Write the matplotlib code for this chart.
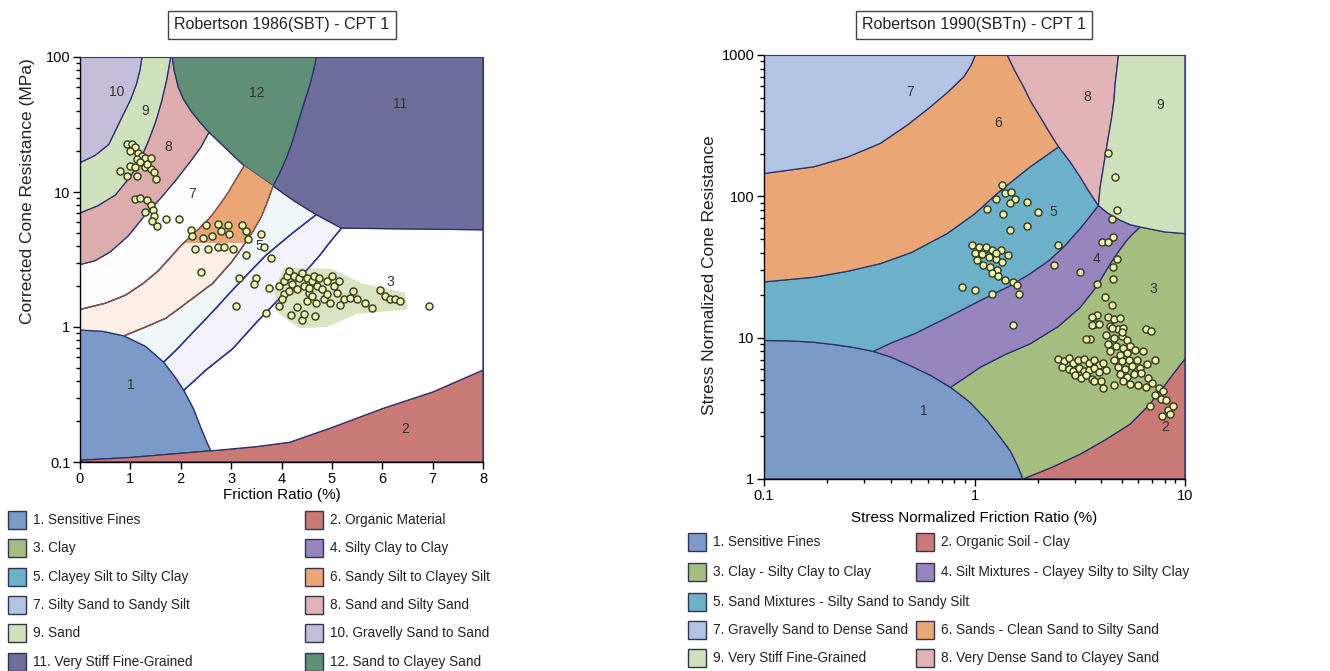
import matplotlib
matplotlib.use("Agg")
import matplotlib.pyplot as plt
from matplotlib.patches import Polygon, Rectangle
from matplotlib.ticker import NullFormatter

W, H = 1330, 671
plt.rcParams.update({
    "font.family": ["Liberation Sans", "DejaVu Sans"],
    "font.size": 10,
    "axes.linewidth": 1.0,
})

EDGE = "#27306a"

# ---------------- Robertson 1986 (SBT) : zone boundaries (Rf %, qt MPa) ----------------
L_ARC1 = [(0, 0.95), (0.45, 0.93), (0.87, 0.86), (1.3, 0.72), (1.66, 0.55), (1.9, 0.42),
          (2.06, 0.34), (2.25, 0.25), (2.4, 0.18), (2.52, 0.14), (2.6, 0.121)]
L_B32 = [(0, 0.103), (1.0, 0.108), (2.0, 0.116), (2.6, 0.121), (3.5, 0.13), (4.16, 0.14),
         (5.0, 0.18), (6.02, 0.25), (7.0, 0.33), (8, 0.48)]
L_B43 = [(2.06, 0.34), (2.3, 0.41), (2.5, 0.48), (2.75, 0.57), (3.03, 0.69), (3.25, 0.85),
         (3.5, 1.08), (3.75, 1.35), (4.03, 1.73), (4.2, 2.02), (4.4, 2.4), (4.6, 2.9),
         (4.76, 3.4), (4.95, 4.2), (5.19, 5.4)]
L_B54 = [(1.66, 0.55), (1.95, 0.7), (2.2, 0.88), (2.45, 1.1), (2.7, 1.38), (2.95, 1.75),
         (3.2, 2.2), (3.45, 2.75), (3.69, 3.4), (3.95, 4.1), (4.2, 4.9), (4.45, 5.8), (4.69, 6.8)]
L_B65 = [(0.87, 0.86), (1.3, 1.0), (1.7, 1.16), (2.0, 1.4), (2.3, 1.7), (2.63, 2.1), (2.85, 2.6),
         (3.0, 3.0), (3.2, 3.8), (3.43, 5.1), (3.6, 6.6), (3.72, 8.5), (3.83, 11.1)]
L_B76 = [(0, 1.35), (0.5, 1.5), (0.9, 1.72), (1.25, 2.1), (1.55, 2.6), (1.8, 3.3), (2.0, 4.0),
         (2.2, 4.7), (2.35, 5.3), (2.5, 6.0), (2.63, 6.8), (2.8, 8.3), (2.95, 10.0), (3.1, 12.5),
         (3.26, 15.6)]
L_B87 = [(0, 2.9), (0.3, 3.1), (0.6, 3.6), (0.95, 4.7), (1.3, 6.8), (1.6, 9.0), (1.9, 12.2),
         (2.2, 17), (2.4, 21.5), (2.56, 27.7)]
L_B98 = [(0, 7.0), (0.35, 7.9), (0.7, 9.5), (1.0, 13), (1.2, 17.5), (1.36, 24), (1.5, 33),
         (1.62, 47), (1.72, 68), (1.8, 100)]
L_B109 = [(0, 16.5), (0.3, 18.7), (0.57, 22.5), (0.83, 35.7), (1.0, 48), (1.12, 63),
          (1.19, 80), (1.23, 100)]
L_B12L = [(1.83, 100), (1.87, 80), (1.95, 60), (2.05, 49), (2.2, 40), (2.38, 33), (2.56, 27.7)]
L_B12R = [(3.83, 11.1), (3.95, 13.5), (4.1, 18), (4.22, 24), (4.35, 35), (4.45, 46),
          (4.55, 60), (4.63, 78), (4.69, 100)]
L_B11 = [(3.83, 11.1), (4.25, 8.6), (4.69, 6.8), (5.19, 5.4), (8, 5.25)]
L_GREEN = [(3.85, 1.9), (4.05, 2.75), (5.0, 2.7), (5.6, 2.1), (6.45, 1.8), (6.5, 1.35),
           (5.5, 1.25), (4.9, 1.0), (4.35, 0.98), (3.95, 1.25)]

L_COLORS = {1: "#7b9ac7", 2: "#c97a77", 3: "#ffffff", 4: "#f3f1f9", 5: "#eff7f9",
            6: "#fcefe8", 7: "#fdfdff", 8: "#ddadae", 9: "#cee0bc", 10: "#c4bdd9",
            11: "#6f6d9b", 12: "#5f8f77"}
L_ORANGE = "#eba676"

L_ZONE_ID = ["10", "9", "12", "11", "8", "7", "5", "3", "1", "2"]
L_ZONE_X = [0.73, 1.3, 3.5, 6.35, 1.76, 2.23, 3.56, 6.16, 1.0, 6.46]
L_ZONE_Y = [55, 40, 54, 45, 21.5, 9.6, 4.0, 2.17, 0.37, 0.176]

# CPT 1 data (Rf %, qt MPa)
L_RF = [0.93, 1.03, 1.10, 1.0, 1.16, 1.23, 1.13, 1.30, 1.40, 1.20, 1.0, 1.10, 1.30, 1.40, 0.80,
        0.93, 1.13, 1.46, 1.50, 1.33,
        1.10, 1.20, 1.33, 1.40, 1.30, 1.44, 1.46, 1.43, 1.53, 1.71, 1.96,
        2.20, 2.51, 2.73, 2.93, 3.21, 3.29, 2.23, 2.44, 2.63, 2.80, 2.96, 3.33, 2.28, 2.55, 2.73,
        2.86, 3.03, 2.40,
        3.59, 3.66, 3.79, 3.29, 3.16, 3.49, 3.46, 3.10,
        3.95, 4.05, 4.1, 4.15, 4.2, 4.25, 4.3, 4.35, 4.4, 4.45, 4.5, 4.55, 4.6, 4.65, 4.7, 4.75,
        4.8, 4.9, 5.0, 5.05, 5.1, 5.15, 5.25, 5.36, 5.42, 5.5, 5.66, 5.79, 5.96, 6.05, 6.15, 6.25,
        6.36, 6.92, 3.96, 4.19, 4.3, 4.4, 4.45, 4.5, 4.6, 4.66, 4.69, 4.85, 4.96, 5.16, 3.75, 4.05,
        4.15, 4.55, 4.9, 3.69, 4.0]
L_QT = [22.7, 22.7, 21.4, 20.2, 19.6, 18.5, 17.5, 18.0, 18.0, 16.6, 15.6, 15.2, 15.2, 14.8, 14.4,
        13.2, 13.2, 14.0, 12.4, 16.1,
        8.8, 9.1, 8.7, 8.0, 7.1, 7.3, 6.6, 6.1, 5.6, 6.3, 6.3,
        5.2, 5.7, 5.75, 5.7, 5.7, 5.1, 4.7, 4.6, 4.7, 5.1, 4.85, 4.5, 3.8, 3.8, 3.9,
        3.9, 3.8, 2.56,
        4.9, 3.9, 3.25, 3.44, 2.3, 2.3, 2.1, 1.42,
        2.0, 2.2, 2.4, 2.6, 2.1, 2.4, 1.9, 2.3, 2.5, 2.0, 2.3, 1.8, 2.2, 2.4, 2.0, 2.3,
        1.9, 2.2, 2.4, 2.0, 1.8, 2.2, 1.6, 1.64, 1.85, 1.6, 1.5, 1.39, 1.89, 1.7, 1.6, 1.6,
        1.55, 1.42, 1.42, 1.23, 1.4, 1.13, 1.25, 1.55, 1.7, 1.21, 1.5, 1.6, 1.5, 1.45, 1.95, 1.75,
        1.85, 1.95, 1.75, 1.27, 1.6]

L_LEGEND = ["1. Sensitive Fines", "2. Organic Material", "3. Clay", "4. Silty Clay to Clay",
            "5. Clayey Silt to Silty Clay", "6. Sandy Silt to Clayey Silt",
            "7. Silty Sand to Sandy Silt", "8. Sand and Silty Sand", "9. Sand",
            "10. Gravelly Sand to Sand", "11. Very Stiff Fine-Grained", "12. Sand to Clayey Sand"]
L_LEG_COLORS = ["#7b9ac7", "#c97a77", "#a5be7f", "#9686bd", "#6db0c9", "#eba676",
                "#b3c3e3", "#e2b3b6", "#cfe0bd", "#c4bdd9", "#6f6d9b", "#5f8f77"]

# ---------------- Robertson 1990 (SBTn) : zone boundaries (Fr %, Qt) ----------------
R_ARC1 = [(0.1, 9.55), (0.13, 9.5), (0.17, 9.3), (0.22, 8.9), (0.27, 8.5), (0.33, 8.0),
          (0.4, 7.3), (0.5, 6.3), (0.62, 5.4), (0.77, 4.45), (0.95, 3.5), (1.15, 2.59),
          (1.3, 2.05), (1.48, 1.58), (1.6, 1.25), (1.7, 1.0)]
R_B32 = [(1.7, 1.0), (2.3, 1.2), (3.18, 1.5), (4.2, 1.9), (5.49, 2.45), (6.7, 3.3),
         (7.88, 4.46), (9.0, 5.8), (10, 7.08)]
R_B43 = [(0.77, 4.45), (1.07, 6.2), (1.4, 7.6), (1.84, 9.06), (2.5, 12.0), (3.18, 16.4),
         (3.8, 23), (4.41, 33.3), (4.85, 41), (5.29, 48.9), (5.7, 55), (6.12, 60.7)]
R_B39 = [(6.12, 60.7), (8.0, 56), (10, 54.5)]
R_B45 = [(0.33, 8.0), (0.41, 9.3), (0.514, 10.6), (0.75, 14), (1.07, 18.4), (1.45, 23),
         (1.84, 28.4), (2.25, 35), (2.65, 43.8), (3.2, 60), (3.88, 86)]
R_B49 = [(3.88, 86), (4.3, 76), (4.92, 67.8), (5.5, 63), (6.12, 60.7)]
R_B56 = [(0.1, 24.8), (0.173, 26.8), (0.25, 29.5), (0.357, 33.4), (0.5, 40), (0.741, 54.5),
         (1.0, 75), (1.28, 104.7), (1.55, 132), (1.84, 162), (2.2, 195), (2.51, 224)]
R_B58 = [(2.51, 224), (2.85, 175), (3.18, 137), (3.5, 108), (3.88, 86)]
R_B67 = [(0.1, 145), (0.173, 162), (0.25, 190), (0.357, 237), (0.48, 320), (0.618, 430),
         (0.75, 550), (0.889, 701), (0.96, 840), (1.01, 1000)]
R_B68 = [(2.51, 224), (2.25, 290), (2.05, 366), (1.85, 470), (1.71, 597), (1.55, 780),
         (1.43, 1000)]
R_B89 = [(3.88, 86), (3.95, 115), (4.10, 162), (4.3, 250), (4.49, 366), (4.6, 480),
         (4.66, 631), (4.75, 800), (4.83, 1000)]

R_COLORS = {1: "#7b9ac7", 2: "#c97a77", 3: "#a5be7f", 4: "#9686bd", 5: "#6db0c9",
            6: "#eba676", 7: "#b3c3e3", 8: "#e2b3b6", 9: "#cfe0bd"}

R_ZONE_ID = ["7", "6", "8", "9", "5", "4", "3", "1", "2"]
R_ZONE_X = [0.497, 1.30, 3.42, 7.6, 2.36, 3.81, 7.03, 0.574, 8.04]
R_ZONE_Y = [550, 328, 507, 443, 77.5, 36.2, 22.2, 3.05, 2.32]

R_FR = [1.35, 1.40, 1.49, 1.55, 1.26, 1.15, 1.37, 1.48, 1.78, 2.01, 1.78, 1.48, 2.49, 2.38, 3.18,
        1.53,
        0.97, 1.05, 1.12, 1.21, 1.33, 1.45, 1.0, 1.09, 1.17, 1.26, 1.35, 1.03, 1.10, 1.19, 1.28,
        1.21, 1.30, 1.40, 1.52, 1.59, 1.62, 0.87, 1.01, 1.21, 1.14, 1.27,
        4.33, 4.66, 4.74, 4.49, 4.57, 4.03, 4.33, 4.74, 4.57, 4.57, 3.81, 4.18, 4.49, 3.81, 3.73,
        3.54,
        2.5, 2.65, 2.8, 2.95, 3.1, 3.3, 3.5, 3.7, 3.9, 4.1, 2.6, 2.8, 2.95, 3.15, 3.3, 3.5, 3.7,
        3.9, 4.2, 3.0, 3.2, 3.4, 3.6, 4.0, 4.6,
        4.3, 4.6, 4.9, 4.4, 4.8, 5.1, 4.2, 4.6, 5.0, 5.3, 4.3, 4.7, 5.1, 5.5, 4.4, 4.9, 5.3, 5.8,
        6.3, 4.6, 5.0, 5.4, 5.9, 4.8, 5.2, 5.6, 6.1, 6.6, 7.2, 4.9, 5.3, 5.7, 6.2, 6.7, 5.1, 5.5,
        6.0, 6.5, 7.0, 7.5, 7.9, 7.2, 7.7, 8.1, 6.8, 8.3, 8.8, 7.8, 8.5, 3.6, 3.6, 3.4, 6.5, 6.9,
        4.1, 3.7, 5.0, 4.5, 3.9]
R_QT = [120, 106, 107, 96, 96, 82, 75.5, 89, 91, 77, 62, 57.5, 45.5, 32.8, 29,
        12.2,
        45, 43.8, 42.7, 42, 41.5, 38.3, 39.7, 38.9, 37.3, 36.3, 34.3, 35.6, 32.5, 31.6, 30.3,
        28.7, 27.2, 25.4, 24.8, 23.5, 20.5, 22.8, 21.6, 20.5, 44, 40,
        201, 137, 79.6, 69.5, 51.5, 47.5, 47.5, 36.2, 31.6, 26.1, 24.1, 19.4, 16.9, 14.4, 12.5,
        9.8,
        7.1, 6.8, 7.2, 6.6, 6.9, 7.1, 6.6, 6.9, 6.4, 6.6, 6.2, 6.0, 5.8, 6.1, 5.8, 5.9, 6.1,
        5.7, 5.9, 5.4, 5.2, 5.4, 5.1, 4.9, 4.6,
        14, 13.5, 13.8, 12, 11.5, 11.8, 10.5, 10, 10.2, 9.6, 9.0, 8.8, 8.5, 8.8, 8.0, 7.6, 7.8, 8.2,
        8.0, 7.0, 6.8, 6.9, 7.0, 6.2, 6.0, 6.3, 6.1, 6.5, 7.0, 5.5, 5.3, 5.5, 5.6, 5.2, 4.9, 4.7,
        4.6, 4.5, 4.8, 4.4, 4.2, 3.9, 3.7, 3.6, 3.3, 3.1, 3.3, 2.8, 2.9, 14, 12.3, 9.8, 11.5, 11.2,
        4.4, 4.9, 10.9, 11.8, 12.5]

R_LEGEND = ["1. Sensitive Fines", "2. Organic Soil - Clay", "3. Clay - Silty Clay to Clay",
            "4. Silt Mixtures - Clayey Silty to Silty Clay",
            "5. Sand Mixtures - Silty Sand to Sandy Silt", None,
            "7. Gravelly Sand to Dense Sand", "6. Sands - Clean Sand to Silty Sand",
            "9. Very Stiff Fine-Grained", "8. Very Dense Sand to Clayey Sand"]
R_LEG_COLORS = ["#7b9ac7", "#c97a77", "#a5be7f", "#9686bd", "#6db0c9", None,
                "#b3c3e3", "#eba676", "#cfe0bd", "#e2b3b6"]


def rev(p):
    return list(p)[::-1]


def seg(p, a, b):
    # sub-boundary from point a to point b (inclusive)
    i, j = p.index(a), p.index(b)
    return list(p[i:j + 1])


def add_zone(ax, pts, color, z=1):
    poly = Polygon(pts, closed=True, facecolor=color, edgecolor=EDGE, lw=0.9, zorder=z)
    ax.add_patch(poly)
    return poly


def style_axes(ax):
    for s in ("top", "right"):
        ax.spines[s].set_color("#3a3a6a")
        ax.spines[s].set_linewidth(0.8)
    ax.tick_params(which="major", direction="out", length=5, width=1, labelsize=10.5, pad=2)
    ax.tick_params(which="minor", direction="out", length=3, width=1)
    ax.tick_params(top=False, right=False, which="both")


fig = plt.figure(figsize=(W / 100, H / 100), dpi=100)
fig.patch.set_facecolor("white")

# ======================= left panel =======================
ax1 = fig.add_axes([80 / W, 1 - 462 / H, 403 / W, 405 / H])
ax1.set_xlim(0, 8)
ax1.set_yscale("log")
ax1.set_ylim(0.1, 100)

p_087, p_166, p_206, p_26 = L_B65[0], L_B54[0], L_B43[0], L_ARC1[-1]
add_zone(ax1, L_ARC1 + rev(seg(L_B32, L_B32[0], p_26)), L_COLORS[1])
add_zone(ax1, L_B32 + [(8, 0.1), (0, 0.1)], L_COLORS[2])
add_zone(ax1, seg(L_ARC1, p_206, p_26) + seg(L_B32, p_26, L_B32[-1]) + [L_B11[-1]]
         + rev(seg(L_B11, L_B43[-1], L_B11[-1])) + rev(L_B43), L_COLORS[3])
add_zone(ax1, seg(L_ARC1, p_166, p_206) + L_B43 + rev(L_B54), L_COLORS[4])
add_zone(ax1, seg(L_ARC1, p_087, p_166) + L_B54 + rev(seg(L_B11, L_B11[0], L_B54[-1]))
         + rev(L_B65), L_COLORS[5])
z6 = add_zone(ax1, L_B76 + rev(L_B65) + rev(seg(L_ARC1, L_ARC1[0], p_087)), L_COLORS[6])
add_zone(ax1, L_B87 + rev(L_B76), L_COLORS[7])
add_zone(ax1, L_B98 + L_B12L + rev(L_B87), L_COLORS[8])
add_zone(ax1, L_B109 + rev(L_B98), L_COLORS[9])
add_zone(ax1, [(0, 100)] + rev(L_B109), L_COLORS[10])
add_zone(ax1, [(8, 100)] + rev(L_B11) + L_B12R, L_COLORS[11])
add_zone(ax1, L_B12L + [L_B76[-1]] + L_B12R, L_COLORS[12])

# orange upper part of zone 6, speckled green under the clay cluster
orange = Rectangle((0, 4.2), 8, 100, facecolor=L_ORANGE, edgecolor="none", zorder=1.5)
ax1.add_patch(orange)
orange.set_clip_path(z6)
ax1.add_patch(Polygon(L_GREEN, closed=True, facecolor="#c9d9aa", edgecolor="none",
                      alpha=0.7, zorder=1.6))
for b in (L_B76, L_B65):
    ax1.plot([p[0] for p in b], [p[1] for p in b], color="#8a4f45", lw=1.0, zorder=2)
for b in (L_B54, L_B43):
    ax1.plot([p[0] for p in b], [p[1] for p in b], color="#2a3590", lw=1.0, zorder=2)

for t, x, y in zip(L_ZONE_ID, L_ZONE_X, L_ZONE_Y):
    ax1.text(x, y, t, fontsize=10, color="#333333", ha="center", va="center", zorder=3)

ax1.scatter(L_RF, L_QT, s=26, facecolor="#f3f2ae", edgecolor="#2c3a1c", linewidths=1.0,
            zorder=4)

ax1.set_xticks(range(9))
ax1.set_yticks([0.1, 1, 10, 100])
ax1.set_yticklabels(["0.1", "1", "10", "100"])
ax1.yaxis.set_minor_formatter(NullFormatter())
style_axes(ax1)
ax1.set_xlabel("Friction Ratio (%)", fontsize=11, labelpad=2)

# ======================= right panel =======================
ax2 = fig.add_axes([764 / W, 1 - 479 / H, 421 / W, 424 / H])
ax2.set_xscale("log")
ax2.set_yscale("log")
ax2.set_xlim(0.1, 10)
ax2.set_ylim(1, 1000)

q_033, q_077, q_17 = R_B45[0], R_B43[0], R_ARC1[-1]
add_zone(ax2, [(0.1, 1)] + R_ARC1, R_COLORS[1])
add_zone(ax2, R_B32 + [(10, 1)], R_COLORS[2])
add_zone(ax2, seg(R_ARC1, q_077, q_17) + R_B32 + rev(R_B39) + rev(R_B43), R_COLORS[3])
add_zone(ax2, seg(R_ARC1, q_033, q_077) + R_B43 + rev(R_B49) + rev(R_B45), R_COLORS[4])
add_zone(ax2, R_B56 + R_B58 + rev(R_B45) + rev(seg(R_ARC1, R_ARC1[0], q_033)), R_COLORS[5])
add_zone(ax2, R_B67 + rev(R_B68) + rev(R_B56), R_COLORS[6])
add_zone(ax2, [(0.1, 1000)] + rev(R_B67), R_COLORS[7])
add_zone(ax2, R_B68 + rev(R_B89) + rev(R_B58), R_COLORS[8])
add_zone(ax2, R_B89 + [(10, 1000)] + rev(R_B39) + rev(R_B49), R_COLORS[9])

for t, x, y in zip(R_ZONE_ID, R_ZONE_X, R_ZONE_Y):
    ax2.text(x, y, t, fontsize=10, color="#333333", ha="center", va="center", zorder=3)

ax2.scatter(R_FR, R_QT, s=26, facecolor="#f3f2ae", edgecolor="#2c3a1c", linewidths=1.0,
            zorder=4)

ax2.set_xticks([0.1, 1, 10])
ax2.set_xticklabels(["0.1", "1", "10"])
ax2.set_yticks([1, 10, 100, 1000])
ax2.set_yticklabels(["1", "10", "100", "1000"])
ax2.xaxis.set_minor_formatter(NullFormatter())
ax2.yaxis.set_minor_formatter(NullFormatter())
style_axes(ax2)
ax2.set_xlabel("Stress Normalized Friction Ratio (%)", fontsize=11, labelpad=6)

# ---- y labels, title boxes ----
fig.text(28 / W, 1 - 58 / H, "Corrected Cone Resistance (MPa)", rotation=90, fontsize=12.5,
         ha="center", va="top", color="#222222")
fig.text(710 / W, 1 - 275 / H, "Stress Normalized Cone Resistance", rotation=90,
         fontsize=12.5, ha="center", va="center", color="#222222")

box = dict(boxstyle="square,pad=0.4", facecolor="white", edgecolor="#444444", lw=1)
fig.text(282 / W, 1 - 25 / H, "Robertson 1986(SBT) - CPT 1", fontsize=11.5, ha="center",
         va="center", bbox=box, color="#222222")
fig.text(974 / W, 1 - 25 / H, "Robertson 1990(SBTn) - CPT 1", fontsize=11.5, ha="center",
         va="center", bbox=box, color="#222222")


# ---- legends (manual, two columns) ----
def legend_entry(px, py, color, label):
    fig.patches.append(Rectangle((px / W, 1 - (py + 9) / H), 18 / W, 18 / H,
                                 transform=fig.transFigure, facecolor=color,
                                 edgecolor="#33334a", lw=1.0))
    fig.text((px + 25) / W, 1 - py / H, label, fontsize=9.8, ha="left", va="center",
             color="#222222")


L_ROWS = [520, 548, 577, 605, 633, 662]
for i, (lab, col) in enumerate(zip(L_LEGEND, L_LEG_COLORS)):
    legend_entry(8 if i % 2 == 0 else 305, L_ROWS[i // 2], col, lab)

R_ROWS = [542, 572, 602, 630, 658]
for i, (lab, col) in enumerate(zip(R_LEGEND, R_LEG_COLORS)):
    if lab is None:
        continue
    legend_entry(688 if i % 2 == 0 else 916, R_ROWS[i // 2], col, lab)

fig.savefig("out.png", dpi=100, facecolor="white")
